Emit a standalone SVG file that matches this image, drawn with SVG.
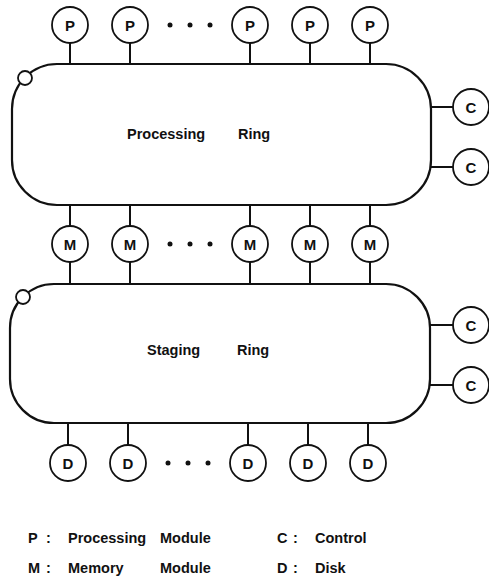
<svg xmlns="http://www.w3.org/2000/svg" width="489" height="582" viewBox="0 0 489 582">
<style>
.ring{fill:none;stroke:#111;stroke-width:2.2}
.nd{fill:#fff;stroke:#111;stroke-width:1.8}
.ln{stroke:#111;stroke-width:2;fill:none}
.lb{font-family:"Liberation Sans",Arial,sans-serif;font-weight:bold;font-size:15px;fill:#111;text-anchor:middle}
.tx{font-family:"Liberation Sans",Arial,sans-serif;font-weight:bold;font-size:14.5px;fill:#111}
.dot{fill:#111}
</style>
<rect width="489" height="582" fill="#fff"/>
<g id="connectors">
<path class="ln" d="M70 43V64M130 43V64M250 43V64M310 43V64M370 43V64"/>
<path class="ln" d="M70 205V226M130 205V226M250 205V226M310 205V226M370 205V226"/>
<path class="ln" d="M70 262V284M130 262V284M250 262V284M310 262V284M370 262V284"/>
<path class="ln" d="M68 423V445M128 423V445M248 423V445M308 423V445M368 423V445"/>
<path class="ln" d="M431 107H453M431 167H453M430 325H453M430 385H453"/>
</g>
<g id="processing-ring">
<rect class="ring" x="12" y="64" width="419" height="141" rx="45" ry="45"/>
<circle class="nd" cx="25" cy="78" r="7"/>
<text class="tx" x="127" y="139">Processing</text>
<text class="tx" x="238" y="139">Ring</text>
</g>
<g id="staging-ring">
<rect class="ring" x="10" y="284" width="420" height="139" rx="44" ry="44"/>
<circle class="nd" cx="23" cy="297" r="7"/>
<text class="tx" x="147" y="355">Staging</text>
<text class="tx" x="237" y="355">Ring</text>
</g>
<g id="p1"><circle class="nd" cx="70" cy="25" r="18"/><text class="lb" x="70" y="30.5">P</text></g>
<g id="p2"><circle class="nd" cx="130" cy="25" r="18"/><text class="lb" x="130" y="30.5">P</text></g>
<g id="p-dots"><circle class="dot" cx="170" cy="25" r="2.5"/><circle class="dot" cx="190" cy="25" r="2.5"/><circle class="dot" cx="210" cy="25" r="2.5"/></g>
<g id="p3"><circle class="nd" cx="250" cy="25" r="18"/><text class="lb" x="250" y="30.5">P</text></g>
<g id="p4"><circle class="nd" cx="310" cy="25" r="18"/><text class="lb" x="310" y="30.5">P</text></g>
<g id="p5"><circle class="nd" cx="370" cy="25" r="18"/><text class="lb" x="370" y="30.5">P</text></g>
<g id="m1"><circle class="nd" cx="70" cy="244" r="18"/><text class="lb" x="70" y="249.5">M</text></g>
<g id="m2"><circle class="nd" cx="130" cy="244" r="18"/><text class="lb" x="130" y="249.5">M</text></g>
<g id="m-dots"><circle class="dot" cx="170" cy="244" r="2.5"/><circle class="dot" cx="190" cy="244" r="2.5"/><circle class="dot" cx="210" cy="244" r="2.5"/></g>
<g id="m3"><circle class="nd" cx="250" cy="244" r="18"/><text class="lb" x="250" y="249.5">M</text></g>
<g id="m4"><circle class="nd" cx="310" cy="244" r="18"/><text class="lb" x="310" y="249.5">M</text></g>
<g id="m5"><circle class="nd" cx="370" cy="244" r="18"/><text class="lb" x="370" y="249.5">M</text></g>
<g id="d1"><circle class="nd" cx="68" cy="463" r="18"/><text class="lb" x="68" y="468.5">D</text></g>
<g id="d2"><circle class="nd" cx="128" cy="463" r="18"/><text class="lb" x="128" y="468.5">D</text></g>
<g id="d-dots"><circle class="dot" cx="168" cy="463" r="2.5"/><circle class="dot" cx="188" cy="463" r="2.5"/><circle class="dot" cx="208" cy="463" r="2.5"/></g>
<g id="d3"><circle class="nd" cx="248" cy="463" r="18"/><text class="lb" x="248" y="468.5">D</text></g>
<g id="d4"><circle class="nd" cx="308" cy="463" r="18"/><text class="lb" x="308" y="468.5">D</text></g>
<g id="d5"><circle class="nd" cx="368" cy="463" r="18"/><text class="lb" x="368" y="468.5">D</text></g>
<g id="c1"><circle class="nd" cx="471" cy="107" r="18"/><text class="lb" x="471" y="112.5">C</text></g>
<g id="c2"><circle class="nd" cx="471" cy="167" r="18"/><text class="lb" x="471" y="172.5">C</text></g>
<g id="c3"><circle class="nd" cx="471" cy="325" r="18"/><text class="lb" x="471" y="330.5">C</text></g>
<g id="c4"><circle class="nd" cx="471" cy="385" r="18"/><text class="lb" x="471" y="390.5">C</text></g>
<g id="legend">
<text class="tx" x="28" y="543">P</text><text class="tx" x="46" y="543">:</text>
<text class="tx" x="68" y="543">Processing</text>
<text class="tx" x="160" y="543">Module</text>
<text class="tx" x="277" y="543">C</text><text class="tx" x="293" y="543">:</text>
<text class="tx" x="315" y="543">Control</text>
<text class="tx" x="28" y="573">M</text><text class="tx" x="46" y="573">:</text>
<text class="tx" x="68" y="573">Memory</text>
<text class="tx" x="160" y="573">Module</text>
<text class="tx" x="277" y="573">D</text><text class="tx" x="293" y="573">:</text>
<text class="tx" x="315" y="573">Disk</text>
</g>
</svg>
